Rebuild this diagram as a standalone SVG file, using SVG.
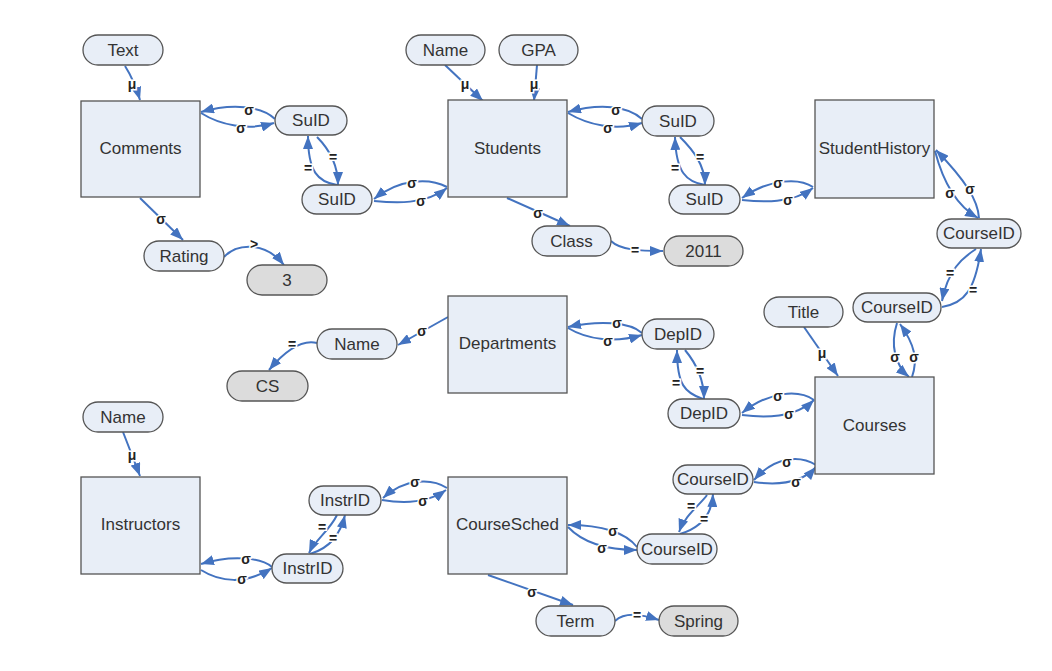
<svg xmlns="http://www.w3.org/2000/svg" width="1052" height="671" viewBox="0 0 1052 671">
<style>
.box{fill:#e8eef7;stroke:#555;stroke-width:1.3}
.pill{fill:#e8eef7;stroke:#555;stroke-width:1.3}
.val{fill:#dcdcdc;stroke:#555;stroke-width:1.3}
.t{font-family:"Liberation Sans",Arial,sans-serif;font-size:17px;fill:#333;text-anchor:middle;dominant-baseline:central}
.e{fill:none;stroke:#4373c0;stroke-width:2;marker-end:url(#ah)}
.l{font-family:"Liberation Sans",Arial,sans-serif;font-size:14px;font-weight:bold;fill:#222;text-anchor:middle;dominant-baseline:central;stroke:#fff;stroke-width:3;paint-order:stroke}
</style>
<defs>
<marker id="ah" markerUnits="userSpaceOnUse" markerWidth="14" markerHeight="10" refX="13" refY="5" orient="auto">
<path d="M0,0 L13,5 L0,10 z" fill="#4373c0"/>
</marker>
</defs>
<rect width="1052" height="671" fill="#fff"/>
<g id="connectors">
<path class="e" d="M125,66 Q134,80 140,100"/><text class="l" x="132" y="84">μ</text>
<path class="e" d="M275,119 C262,106 232,103 201,112"/><text class="l" x="249" y="110">σ</text>
<path class="e" d="M201,113 C220,125 248,131 274,123"/><text class="l" x="241" y="128">σ</text>
<path class="e" d="M337,185 C318,182 308,172 308,136"/><text class="l" x="308" y="168">=</text>
<path class="e" d="M317,137 C330,150 338,165 338,185"/><text class="l" x="333" y="157">=</text>
<path class="e" d="M140,198 L183,240"/><text class="l" x="161" y="219">σ</text>
<path class="e" d="M224,257 C236,244 264,240 284,265"/><text class="l" x="254" y="244">&gt;</text>
<path class="e" d="M445,65 L483,101"/><text class="l" x="465" y="84">μ</text>
<path class="e" d="M537,65 L534,101"/><text class="l" x="534" y="84">μ</text>
<path class="e" d="M642,119 C628,106 600,103 568,112"/><text class="l" x="616" y="110">σ</text>
<path class="e" d="M568,113 C588,125 615,131 642,123"/><text class="l" x="608" y="128">σ</text>
<path class="e" d="M705,185 C686,182 676,172 675,137"/><text class="l" x="675" y="168">=</text>
<path class="e" d="M680,137 C693,150 705,165 705,185"/><text class="l" x="700" y="157">=</text>
<path class="e" d="M447,187 C430,178 400,178 374,199"/><text class="l" x="412" y="183">σ</text>
<path class="e" d="M374,201 C395,203 425,205 447,188"/><text class="l" x="421" y="201">σ</text>
<path class="e" d="M507,198 L570,226"/><text class="l" x="538" y="213">σ</text>
<path class="e" d="M611,241 C620,250 640,251 663,251"/><text class="l" x="635" y="250">=</text>
<path class="e" d="M813,187 C800,178 770,178 742,198"/><text class="l" x="778" y="183">σ</text>
<path class="e" d="M742,200 C762,202 792,204 813,188"/><text class="l" x="788" y="200">σ</text>
<path class="e" d="M935,151 C942,178 955,205 978,218"/><text class="l" x="950" y="193">σ</text>
<path class="e" d="M979,218 C978,200 965,180 936,150"/><text class="l" x="970" y="189">σ</text>
<path class="e" d="M976,249 C962,258 948,270 942,301"/><text class="l" x="950" y="273">=</text>
<path class="e" d="M942,307 C965,303 975,290 981,249"/><text class="l" x="973" y="290">=</text>
<path class="e" d="M804,327 L838,376"/><text class="l" x="822" y="353">μ</text>
<path class="e" d="M897,323 C890,345 895,365 909,377"/><text class="l" x="895" y="357">σ</text>
<path class="e" d="M912,377 C918,360 915,345 900,324"/><text class="l" x="914" y="357">σ</text>
<path class="e" d="M642,333 C630,322 600,320 568,327"/><text class="l" x="617" y="323">σ</text>
<path class="e" d="M568,328 C588,340 615,343 642,335"/><text class="l" x="608" y="341">σ</text>
<path class="e" d="M703,399 C685,393 677,385 677,350"/><text class="l" x="676" y="383">=</text>
<path class="e" d="M685,350 C695,362 704,378 704,399"/><text class="l" x="700" y="371">=</text>
<path class="e" d="M814,400 C800,390 770,390 742,413"/><text class="l" x="778" y="396">σ</text>
<path class="e" d="M742,415 C765,418 795,418 814,400"/><text class="l" x="789" y="414">σ</text>
<path class="e" d="M816,465 C800,455 775,456 754,480"/><text class="l" x="787" y="462">σ</text>
<path class="e" d="M754,482 C775,485 800,485 816,467"/><text class="l" x="796" y="482">σ</text>
<path class="e" d="M707,495 C700,505 685,515 679,532"/><text class="l" x="691" y="506">=</text>
<path class="e" d="M680,534 C700,528 712,515 713,494"/><text class="l" x="704" y="519">=</text>
<path class="e" d="M637,547 C625,532 600,525 568,525"/><text class="l" x="613" y="531">σ</text>
<path class="e" d="M568,527 C585,545 610,550 637,550"/><text class="l" x="602" y="548">σ</text>
<path class="e" d="M488,575 L573,605"/><text class="l" x="532" y="592">σ</text>
<path class="e" d="M615,621 C625,612 640,614 659,620"/><text class="l" x="637" y="615">=</text>
<path class="e" d="M447,488 C432,478 405,478 383,498"/><text class="l" x="415" y="482">σ</text>
<path class="e" d="M382,500 C400,503 425,505 446,490"/><text class="l" x="423" y="501">σ</text>
<path class="e" d="M337,515 C330,530 315,540 309,553"/><text class="l" x="322" y="527">=</text>
<path class="e" d="M310,554 C330,548 340,535 345,515"/><text class="l" x="333" y="538">=</text>
<path class="e" d="M272,567 C260,557 230,555 201,564"/><text class="l" x="246" y="559">σ</text>
<path class="e" d="M201,570 C220,582 245,585 272,568"/><text class="l" x="242" y="579">σ</text>
<path class="e" d="M123,432 Q132,455 140,476"/><text class="l" x="132" y="455">μ</text>
<path class="e" d="M448,317 L398,345"/><text class="l" x="422" y="331">σ</text>
<path class="e" d="M317,343 C305,340 290,345 269,370"/><text class="l" x="292" y="344">=</text>
</g>
<g id="comments"><rect class="box" x="81" y="101" width="119" height="96"/><text class="t" x="140.5" y="148">Comments</text></g>
<g id="students"><rect class="box" x="448" y="100" width="119" height="97"/><text class="t" x="507.5" y="148">Students</text></g>
<g id="studenthistory"><rect class="box" x="815" y="100" width="119" height="98"/><text class="t" x="874.5" y="148">StudentHistory</text></g>
<g id="departments"><rect class="box" x="448" y="296" width="119" height="97"/><text class="t" x="507.5" y="343">Departments</text></g>
<g id="courses"><rect class="box" x="815" y="377" width="119" height="97"/><text class="t" x="874.5" y="425">Courses</text></g>
<g id="instructors"><rect class="box" x="81" y="477" width="119" height="97"/><text class="t" x="140.5" y="524">Instructors</text></g>
<g id="coursesched"><rect class="box" x="448" y="477" width="119" height="97"/><text class="t" x="507.5" y="524">CourseSched</text></g>
<g id="text"><rect class="pill" x="83" y="35" width="80" height="30" rx="15"/><text class="t" x="123" y="50">Text</text></g>
<g id="suid1"><rect class="pill" x="275" y="106" width="72" height="29" rx="14.5"/><text class="t" x="311" y="120.5">SuID</text></g>
<g id="suid2"><rect class="pill" x="302" y="185" width="70" height="29" rx="14.5"/><text class="t" x="337" y="199.5">SuID</text></g>
<g id="rating"><rect class="pill" x="144" y="241" width="80" height="30" rx="15"/><text class="t" x="184" y="256">Rating</text></g>
<g id="three"><rect class="val" x="247" y="265" width="80" height="30" rx="15"/><text class="t" x="287" y="280">3</text></g>
<g id="name1"><rect class="pill" x="406" y="35" width="79" height="30" rx="15"/><text class="t" x="445.5" y="50">Name</text></g>
<g id="gpa"><rect class="pill" x="499" y="35" width="79" height="30" rx="15"/><text class="t" x="538.5" y="50">GPA</text></g>
<g id="suid3"><rect class="pill" x="642" y="106" width="72" height="30" rx="15"/><text class="t" x="678" y="121">SuID</text></g>
<g id="suid4"><rect class="pill" x="669" y="185" width="71" height="29" rx="14.5"/><text class="t" x="704.5" y="199.5">SuID</text></g>
<g id="class"><rect class="pill" x="532" y="226" width="79" height="30" rx="15"/><text class="t" x="571.5" y="241">Class</text></g>
<g id="y2011"><rect class="val" x="664" y="236" width="79" height="30" rx="15"/><text class="t" x="703.5" y="251">2011</text></g>
<g id="cid1"><rect class="pill" x="937" y="219" width="84" height="29" rx="14.5"/><text class="t" x="979" y="233.5">CourseID</text></g>
<g id="cid2"><rect class="pill" x="853" y="293" width="88" height="29" rx="14.5"/><text class="t" x="897" y="307.5">CourseID</text></g>
<g id="title"><rect class="pill" x="764" y="297" width="79" height="30" rx="15"/><text class="t" x="803.5" y="312">Title</text></g>
<g id="depid1"><rect class="pill" x="642" y="319" width="72" height="30" rx="15"/><text class="t" x="678" y="334">DepID</text></g>
<g id="depid2"><rect class="pill" x="668" y="399" width="72" height="29" rx="14.5"/><text class="t" x="704" y="413.5">DepID</text></g>
<g id="name2"><rect class="pill" x="317" y="329" width="80" height="30" rx="15"/><text class="t" x="357" y="344">Name</text></g>
<g id="cs"><rect class="val" x="227" y="371" width="81" height="30" rx="15"/><text class="t" x="267.5" y="386">CS</text></g>
<g id="cid3"><rect class="pill" x="673" y="465" width="80" height="29" rx="14.5"/><text class="t" x="713" y="479.5">CourseID</text></g>
<g id="cid4"><rect class="pill" x="637" y="534" width="80" height="30" rx="15"/><text class="t" x="677" y="549">CourseID</text></g>
<g id="term"><rect class="pill" x="536" y="606" width="79" height="30" rx="15"/><text class="t" x="575.5" y="621">Term</text></g>
<g id="spring"><rect class="val" x="659" y="606" width="79" height="30" rx="15"/><text class="t" x="698.5" y="621">Spring</text></g>
<g id="name3"><rect class="pill" x="83" y="402" width="80" height="30" rx="15"/><text class="t" x="123" y="417">Name</text></g>
<g id="instr1"><rect class="pill" x="309" y="486" width="72" height="29" rx="14.5"/><text class="t" x="345" y="500.5">InstrID</text></g>
<g id="instr2"><rect class="pill" x="272" y="554" width="71" height="29" rx="14.5"/><text class="t" x="307.5" y="568.5">InstrID</text></g>
</svg>
